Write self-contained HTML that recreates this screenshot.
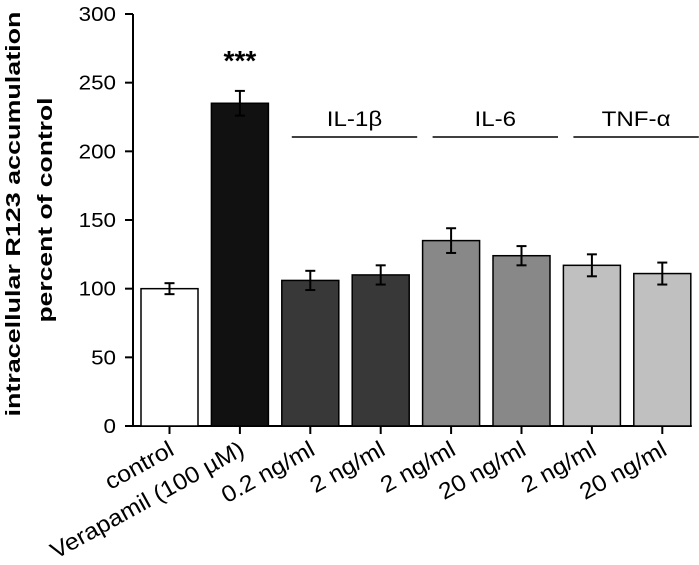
<!DOCTYPE html>
<html><head><meta charset="utf-8"><style>
body{margin:0;background:#fff}
svg{display:block;font-family:"Liberation Sans",sans-serif}
</style></head><body>
<svg id="chart" width="699" height="565" viewBox="0 0 699 565"></svg>
<script>
const categories=["control","Verapamil (100 µM)","0.2 ng/ml","2 ng/ml","2 ng/ml","20 ng/ml","2 ng/ml","20 ng/ml"];
const values=[100,235,106,110,135,124,117,111];
const errors=[4,9,7,7,9,7,8,8];
const colors=["#ffffff","#111111","#383838","#383838","#888888","#888888","#c0c0c0","#c0c0c0"];
const yTicks=[0,50,100,150,200,250,300];
const groups=[{label:"IL-1β",from:2,to:3},{label:"IL-6",from:4,to:5},{label:"TNF-α",from:6,to:7}];
const NS="http://www.w3.org/2000/svg";
const svg=document.getElementById('chart');
const x0=133,y0=426,yScale=412/300,pitch=70.4,barW=57,firstBar=141;
const y=v=>y0-v*yScale;
const bx=i=>firstBar+i*pitch;
function mk(t,a,p){const e=document.createElementNS(NS,t);for(const k in a)e.setAttribute(k,a[k]);(p||svg).appendChild(e);return e;}
let ax=mk('line',{x1:x0,y1:y(300),x2:x0,y2:y0+1,stroke:'#000','stroke-width':2});


let xa=mk('line',{x1:x0-8,y1:y0,x2:bx(7)+barW+1,y2:y0,stroke:'#000','stroke-width':2});


yTicks.forEach(t=>{
 mk('line',{x1:x0-8,y1:y(t),x2:x0,y2:y(t),stroke:'#000','stroke-width':2});
 const tx=mk('text',{x:x0-17,y:y(t)+7,'text-anchor':'end','font-size':20});
 tx.textContent=t;
 
 
 const w=tx.getComputedTextLength();
 tx.setAttribute('textLength',w*1.12);
 tx.setAttribute('lengthAdjust','spacingAndGlyphs');
});
values.forEach((v,i)=>{
 const r=mk('rect',{x:bx(i),y:y(v),width:barW,height:y0-y(v),fill:colors[i],stroke:'#000','stroke-width':1.5});
 
 
 const cx=bx(i)+barW/2;
 const e=errors[i];
 const g=mk('g',{stroke:'#000','stroke-width':2});
 
 
 mk('line',{x1:cx,y1:y(v+e),x2:cx,y2:y(v-e)},g);
 mk('line',{x1:cx-5,y1:y(v+e),x2:cx+5,y2:y(v+e)},g);
 mk('line',{x1:cx-5,y1:y(v-e),x2:cx+5,y2:y(v-e)},g);
 mk('line',{x1:cx,y1:y0,x2:cx,y2:y0+8,stroke:'#000','stroke-width':2});
 const lx=cx+6,ly=y0+28;
 const t=mk('text',{x:lx,y:ly,'text-anchor':'end','font-size':23,transform:`rotate(-29 ${lx} ${ly})`});
 t.textContent=categories[i];
 
 
 const w=t.getComputedTextLength();
 t.setAttribute('textLength',w*1.08);
 t.setAttribute('lengthAdjust','spacingAndGlyphs');
});
const star=mk('text',{x:bx(1)+barW/2,y:70,'text-anchor':'middle','font-size':28,'font-weight':'bold'});
star.textContent='***';


groups.forEach(gr=>{
 const a=bx(gr.from)+10,b=bx(gr.to)+barW+8;
 const l=mk('line',{x1:a,y1:137,x2:b,y2:137,stroke:'#000','stroke-width':1.5});
 
 
 const t=mk('text',{x:(a+b)/2,y:126,'text-anchor':'middle','font-size':21});
 t.textContent=gr.label;
 
 
 const w=t.getComputedTextLength();
 t.setAttribute('textLength',w*1.15);
 t.setAttribute('lengthAdjust','spacingAndGlyphs');
});
const yt1=mk('text',{x:0,y:0,'text-anchor':'middle','font-size':20,'font-weight':'bold',textLength:405,lengthAdjust:'spacingAndGlyphs',transform:'translate(20,214) rotate(-90)'});
yt1.textContent='intracellular R123 accumulation';


const yt2=mk('text',{x:0,y:0,'text-anchor':'middle','font-size':20,'font-weight':'bold',textLength:225,lengthAdjust:'spacingAndGlyphs',transform:'translate(52,210) rotate(-90)'});
yt2.textContent='percent of control';


</script>
</body></html>
